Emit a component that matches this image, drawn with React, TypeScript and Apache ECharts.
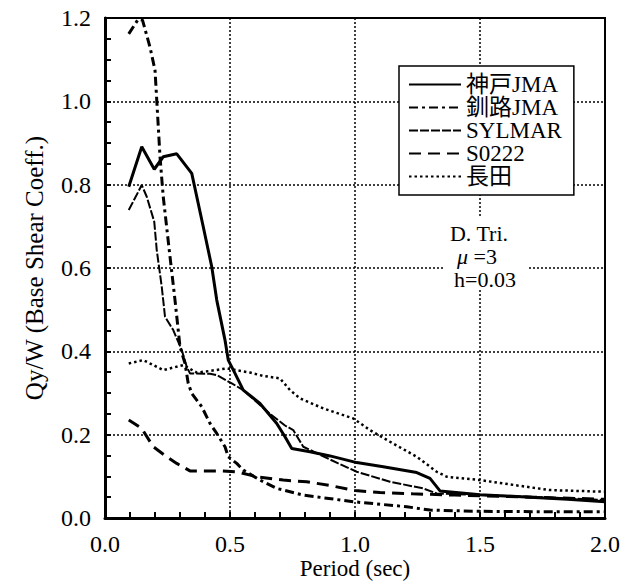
import React, { useEffect, useRef } from "react";
import * as echarts from "echarts";

const seriesNames = ["神戸JMA", "釧路JMA", "SYLMAR", "S0222", "長田"];

const kobeJMA = [
  [0.095, 0.795], [0.147, 0.891], [0.197, 0.837], [0.233, 0.867], [0.287, 0.874],
  [0.347, 0.827], [0.393, 0.699], [0.427, 0.603], [0.447, 0.523], [0.48, 0.427],
  [0.493, 0.379], [0.52, 0.347], [0.553, 0.307], [0.62, 0.275], [0.687, 0.227],
  [0.72, 0.195], [0.747, 0.167], [0.82, 0.159], [0.9, 0.149], [1.007, 0.133],
  [1.113, 0.123], [1.247, 0.109], [1.3, 0.095], [1.34, 0.065], [1.5, 0.056],
  [1.7, 0.05], [1.85, 0.045], [2.0, 0.039],
];

const kushiroJMA = [
  [0.095, 1.162], [0.133, 1.197], [0.15, 1.195], [0.18, 1.13], [0.2, 1.075],
  [0.207, 1.003], [0.22, 0.867], [0.233, 0.771], [0.257, 0.643], [0.28, 0.523],
  [0.3, 0.411], [0.32, 0.371], [0.333, 0.323], [0.347, 0.299], [0.387, 0.267],
  [0.42, 0.227], [0.447, 0.203], [0.48, 0.171], [0.493, 0.147], [0.527, 0.131],
  [0.553, 0.115], [0.62, 0.091], [0.687, 0.071], [0.793, 0.055], [0.993, 0.039],
  [1.207, 0.027], [1.3, 0.019], [1.5, 0.016], [1.75, 0.015], [2.0, 0.015],
];

const sylmar = [
  [0.095, 0.739], [0.147, 0.799], [0.167, 0.771], [0.197, 0.711], [0.207, 0.643],
  [0.227, 0.555], [0.24, 0.483], [0.273, 0.451], [0.307, 0.403], [0.327, 0.363],
  [0.34, 0.347], [0.42, 0.346], [0.447, 0.343], [0.507, 0.323], [0.553, 0.307],
  [0.66, 0.25], [0.72, 0.222], [0.753, 0.211], [0.793, 0.171], [0.933, 0.131],
  [1.007, 0.111], [1.14, 0.087], [1.273, 0.071], [1.327, 0.059], [1.5, 0.055],
  [1.75, 0.05], [2.0, 0.043],
];

const s0222 = [
  [0.095, 0.235], [0.147, 0.215], [0.193, 0.171], [0.24, 0.15], [0.287, 0.131],
  [0.34, 0.113], [0.46, 0.113], [0.527, 0.111], [0.607, 0.099], [0.713, 0.091],
  [0.807, 0.087], [0.9, 0.078], [1.0, 0.066], [1.1, 0.061], [1.23, 0.058],
  [1.4, 0.055], [1.7, 0.05], [2.0, 0.045],
];

const nagata = [
  [0.095, 0.371], [0.153, 0.379], [0.233, 0.355], [0.313, 0.367], [0.367, 0.349],
  [0.42, 0.353], [0.487, 0.359], [0.58, 0.349], [0.633, 0.341], [0.7, 0.335],
  [0.74, 0.307], [0.78, 0.287], [0.873, 0.263], [0.993, 0.239], [1.06, 0.211],
  [1.14, 0.183], [1.247, 0.147], [1.327, 0.111], [1.367, 0.099], [1.5, 0.091],
  [1.65, 0.078], [1.78, 0.067], [2.0, 0.063],
];

const annotationLines = ["D. Tri.", "{i|μ} =3", "h=0.03"];

const FONT = "'Liberation Serif', 'Times New Roman', 'Noto Sans CJK JP', serif";

export default function App() {
  const ref = useRef<HTMLDivElement>(null);
  useEffect(() => {
    if (!ref.current) return;
    const chart = echarts.init(ref.current, undefined, { renderer: "svg" });
    const styles: any[] = [
      { width: 3, type: "solid" },
      { width: 3, type: [9, 4, 3, 4] },
      { width: 2, type: [9, 2] },
      { width: 3, type: [12, 7] },
      { width: 2.5, type: [2.5, 3] },
    ];
    const datas = [kobeJMA, kushiroJMA, sylmar, s0222, nagata];
    chart.setOption({
      animation: false,
      backgroundColor: "#fff",
      textStyle: { fontFamily: FONT, color: "#000" },
      grid: {
        left: 105, right: 33, top: 18, bottom: 63,
        outerBoundsMode: "none",
        containLabel: false,
        show: true, borderColor: "#000", borderWidth: 2, backgroundColor: "transparent",
      },
      legend: {
        orient: "vertical",
        left: 399,
        top: 66,
        padding: [7, 12, 7, 9],
        itemGap: 0,
        itemWidth: 52,
        itemHeight: 14,
        borderColor: "#000",
        borderWidth: 1.5,
        backgroundColor: "#fff",
        z: 10,
        itemStyle: { opacity: 0, borderWidth: 0 },
        textStyle: { fontFamily: FONT, fontSize: 23, lineHeight: 23, color: "#000" },
        data: seriesNames,
      },
      xAxis: {
        type: "value",
        min: 0,
        max: 2,
        interval: 0.5,
        name: "Period (sec)",
        nameLocation: "middle",
        nameGap: 39,
        nameMoveOverlap: false,
        nameTextStyle: { fontFamily: FONT, fontSize: 23, color: "#000", verticalAlign: "top" },
        axisLine: { lineStyle: { color: "#000", width: 3 } },
        axisTick: { inside: true, length: 6, lineStyle: { color: "#000", width: 2 } },
        minorTick: { show: true, splitNumber: 5, length: 6, lineStyle: { color: "#000", width: 2 } },
        axisLabel: {
          margin: 14, fontFamily: FONT, fontSize: 24, color: "#000",
          formatter: (v: number) => v.toFixed(1),
        },
        splitLine: { show: true, lineStyle: { color: "#000", width: 1.5, type: [2, 2] } },
      },
      yAxis: {
        type: "value",
        min: 0,
        max: 1.2,
        interval: 0.2,
        name: "Qy/W (Base Shear Coeff.)",
        nameLocation: "middle",
        nameGap: 58,
        nameTextStyle: { fontFamily: FONT, fontSize: 25, color: "#000" },
        axisLine: { lineStyle: { color: "#000", width: 3 } },
        axisTick: { inside: true, length: 6, lineStyle: { color: "#000", width: 2 } },
        minorTick: { show: true, splitNumber: 4, length: 6, lineStyle: { color: "#000", width: 2 } },
        axisLabel: {
          margin: 14, fontFamily: FONT, fontSize: 24, color: "#000",
          padding: [6, 0, 0, 0],
          formatter: (v: number) => v.toFixed(1),
        },
        splitLine: { show: true, lineStyle: { color: "#000", width: 1.5, type: [2, 2] } },
      },
      graphic: [
        {
          type: "rect",
          z: 100,
          shape: { x: 445, y: 218, width: 82, height: 72 },
          style: { fill: "#fff" },
        },
        ...annotationLines.map((t, i) => ({
          type: "text",
          z: 101,
          x: [479, 477, 485][i],
          y: [233, 256, 279][i],
          style: {
            text: t,
            fontFamily: FONT,
            fontSize: 22,
            lineHeight: 22,
            fill: "#000",
            align: "center",
            verticalAlign: "middle",
            rich: { i: { fontStyle: "italic", fontFamily: FONT, fontSize: 22, lineHeight: 22 } },
          },
        })),
      ],
      series: seriesNames.map((name, i) => ({
        name,
        type: "line",
        data: datas[i],
        symbol: "none",
        lineStyle: { color: "#000", ...styles[i] },
        itemStyle: { color: "#000" },
        z: 3,
      })),
    });
    return () => chart.dispose();
  }, []);
  return <div ref={ref} style={{ width: 638, height: 581, position: "absolute", left: 0, top: 0 }} />;
}
